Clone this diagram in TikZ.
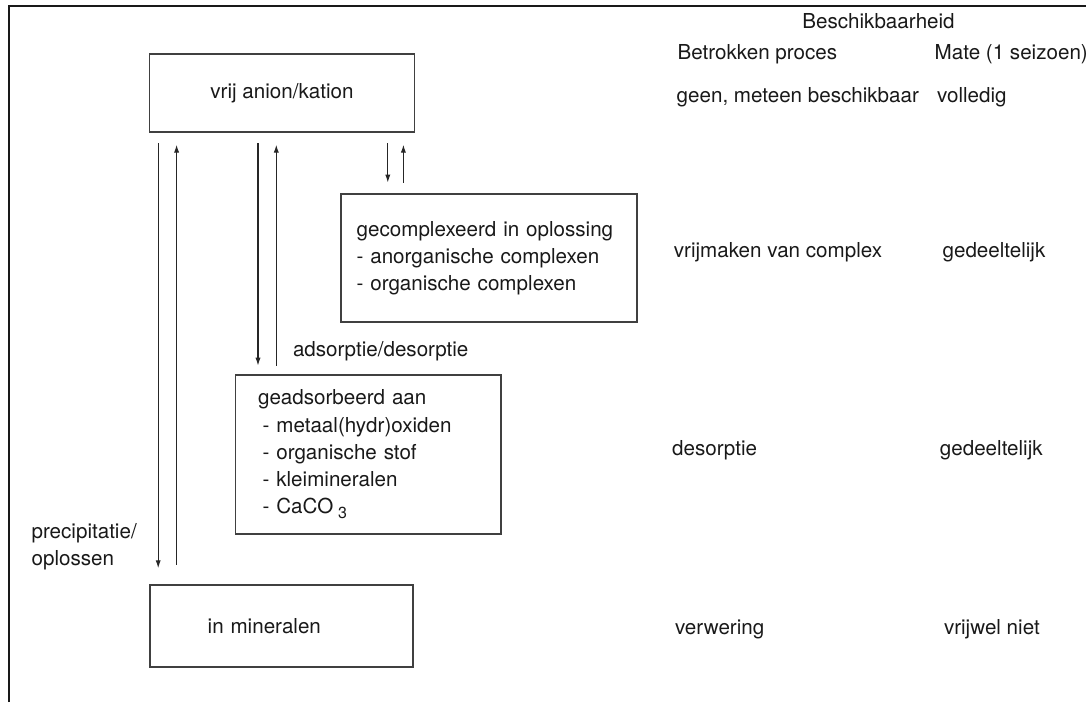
\documentclass[tikz,border=0pt]{standalone}
\usepackage{fontspec}
\setmainfont{TeX Gyre Heros}
\usetikzlibrary{arrows.meta}

\begin{document}
\begin{tikzpicture}[x=0.5pt, y=-0.5pt,
    font=\fontsize{10.3}{13.6}\selectfont,
    vak/.style={draw=black!75, line width=0.9pt, inner ysep=0pt, text=black!90},
    lijst/.style={vak, align=left},
    tekst/.style={anchor=mid west, inner sep=0pt, text=black!90},
    pijl/.style={line width=0.6pt, draw=black!85, -{Latex[length=4pt,width=2.6pt]}}]
  \useasboundingbox (0,0) rectangle (1086,702);

  % Frame
  \draw[line width=1.2pt, black!90] (8.7,702) -- (8.7,6) -- (1086,6);

  % Boxes
  \draw (282,93) node(vrij) [vak, minimum width=132.5pt, minimum height=39.3pt] {vrij anion/kation};
  \draw (489,258) node(complex) [lijst, inner xsep=7.8pt, text width=132.4pt, minimum height=64pt]
    {gecomplexeerd in oplossing\\- anorganische complexen\\- organische complexen};
  \draw (368.3,454.5) node(geads) [lijst, inner xsep=11.25pt, text width=110.25pt, minimum height=79.3pt]
    {geadsorbeerd aan\\\hspace*{2.3pt}- metaal(hydr)oxiden\\\hspace*{2.3pt}- organische stof\\\hspace*{2.3pt}- kleimineralen\\\hspace*{2.3pt}- CaCO\hspace{2.4pt}\raisebox{-2.6pt}{\fontsize{8}{8}\selectfont 3}};
  \draw (281.2,625.8) node(mineraal) [lijst, inner xsep=29pt, text width=73.5pt, minimum height=41pt] {in mineralen};

  % Arrows
  \coordinate (p1) at (158.2,0);
  \coordinate (p2) at (176.6,0);
  \coordinate (q1) at (258,0);
  \coordinate (q2) at (276.3,0);
  \coordinate (r1) at (387.8,0);
  \coordinate (r2) at (403.4,0);
  \draw[pijl, shorten <=4.9pt, shorten >=7.8pt] (vrij.south -| p1) -- (mineraal.north -| p1);
  \draw[pijl, shorten <=9.5pt, shorten >=5.7pt] (mineraal.north -| p2) -- (vrij.south -| p2);
  \draw[pijl, shorten <=4.9pt, shorten >=4.3pt] (vrij.south -| q1) -- (geads.north -| q1);
  \draw[pijl, shorten <=4.3pt, shorten >=5.7pt] (geads.north -| q2) -- (vrij.south -| q2);
  \draw[pijl, shorten <=4.9pt, shorten >=5.2pt] (vrij.south -| r1) -- (complex.north -| r1);
  \draw[pijl, shorten <=5.2pt, shorten >=5.7pt] (complex.north -| r2) -- (vrij.south -| r2);

  % Arrow labels
  \draw (292.6,351.5) node(adsdes) [tekst] {adsorptie/desorptie};
  \draw (31.2,523) node(precip) [tekst, anchor=north west, align=left] {precipitatie/\\oplossen};

  % Table
  \draw (802,23.5) node(beschik) [tekst] {Beschikbaarheid};
  \draw (677.3,54.4) node(proces) [tekst] {Betrokken proces};
  \draw (934.3,54.4) node(mate) [tekst] {Mate (1 seizoen)};
  \draw (676.3,97) node(proc1) [tekst] {geen, meteen beschikbaar};
  \draw (936.7,97) node(mate1) [tekst] {volledig};
  \draw (673.5,252) node(proc2) [tekst] {vrijmaken van complex};
  \draw (942.2,252) node(mate2) [tekst] {gedeeltelijk};
  \draw (671.8,450.4) node(proc3) [tekst] {desorptie};
  \draw (939.5,450.4) node(mate3) [tekst] {gedeeltelijk};
  \draw (674.6,629.7) node(proc4) [tekst] {verwering};
  \draw (943.6,629.7) node(mate4) [tekst] {vrijwel niet};
\end{tikzpicture}
\end{document}
